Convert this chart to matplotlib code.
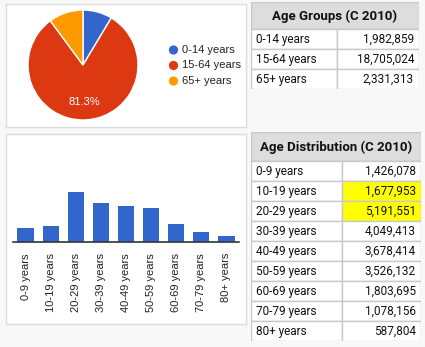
import matplotlib
matplotlib.use("Agg")
import matplotlib.pyplot as plt
from matplotlib.patches import Rectangle

# ---- data ----
group_labels = ["0-14 years", "15-64 years", "65+ years"]
group_values = [1982859, 18705024, 2331313]
group_colors = ["#3366cc", "#dc3912", "#ff9900"]

dist_labels = ["0-9 years", "10-19 years", "20-29 years", "30-39 years", "40-49 years",
               "50-59 years", "60-69 years", "70-79 years", "80+ years"]
dist_values = [1426078, 1677953, 5191551, 4049413, 3678414,
               3526132, 1803695, 1078156, 587804]
dist_highlight = [1, 2]

W, H = 425, 347
fig = plt.figure(figsize=(W / 100, H / 100), dpi=100, facecolor="#f8f8f8")

sans = ["Liberation Sans", "DejaVu Sans"]
narrow = ["Liberation Sans Narrow", "Roboto", "DejaVu Sans"]


def px_axes(x0, y0, x1, y1, **kw):
    return fig.add_axes([x0 / W, 1 - y1 / H, (x1 - x0) / W, (y1 - y0) / H], **kw)


def panel(x0, y0, x1, y1):
    ax = px_axes(x0, y0, x1, y1)
    ax.set_facecolor("white")
    ax.set_xticks([]); ax.set_yticks([])
    for s in ax.spines.values():
        s.set_color("#dddddd")
        s.set_linewidth(1)
    ax.set_xlim(x0, x1); ax.set_ylim(y1, y0)
    return ax


# ---- pie panel ----
pie_panel = panel(6, 4, 245.5, 127)
for i, (lab, col) in enumerate(zip(group_labels, group_colors)):
    y = 50 + i * 15.5
    pie_panel.scatter([173.5], [y], s=44, color=col, edgecolors="none")
    pie_panel.text(182, y, lab, fontsize=8, family=sans, color="#222222", va="center")

ax_pie = px_axes(28, 10, 138, 120)
ax_pie.pie(group_values, colors=group_colors, startangle=90, counterclock=False,
           wedgeprops=dict(edgecolor="white", linewidth=1),
           autopct=lambda p: f"{p:.1f}%" if p > 50 else "", pctdistance=0.67,
           textprops=dict(color="white", fontsize=8, family=sans))
ax_pie.set_xlim(-1, 1); ax_pie.set_ylim(-1, 1)

# ---- bar panel ----
panel(6, 134, 246, 324)
ax_bar = px_axes(13, 142, 239, 242)
ax_bar.bar(range(len(dist_values)), dist_values, width=0.65, color="#3366cc")
ax_bar.set_xlim(-0.5, len(dist_values) - 0.5)
ax_bar.set_ylim(0, 10.3e6)
ax_bar.set_facecolor("none")
for s in ["top", "left", "right"]:
    ax_bar.spines[s].set_visible(False)
ax_bar.spines["bottom"].set_color("#333333")
ax_bar.spines["bottom"].set_linewidth(1.2)
ax_bar.set_yticks([])
ax_bar.set_xticks(range(len(dist_labels)))
ax_bar.set_xticklabels(dist_labels, rotation=90, fontsize=8, family=sans, color="#222222")
ax_bar.tick_params(axis="x", length=0, pad=8)


# ---- tables ----
def draw_table(x0, y0, x1, head_h, title, labels, values, split, highlight=()):
    row_h = 20
    y1 = y0 + head_h + row_h * len(labels)
    ax = px_axes(x0, y0, x1, y1)
    w = x1 - x0
    ax.set_xlim(0, w); ax.set_ylim(y1 - y0, 0)
    ax.axis("off")
    sx = w * split
    ax.add_patch(Rectangle((0, 0), w, head_h, facecolor="#dddddd", edgecolor="#c8c8c8", lw=1))
    ax.text(w / 2, head_h / 2 + 1, title, ha="center", va="center", fontsize=9.5,
            fontweight="bold", family=narrow, color="#111111")
    for i, (lab, val) in enumerate(zip(labels, values)):
        top = head_h + i * row_h
        ax.add_patch(Rectangle((0, top), sx, row_h, facecolor="white", edgecolor="#c8c8c8", lw=1))
        fc = "#ffff00" if i in highlight else "white"
        ax.add_patch(Rectangle((sx, top), w - sx, row_h, facecolor=fc, edgecolor="#c8c8c8", lw=1))
        ax.text(5, top + row_h / 2 + 0.5, lab, ha="left", va="center", fontsize=8.5,
                family=narrow, color="#111111")
        ax.text(w - 5, top + row_h / 2 + 0.5, f"{val:,}", ha="right", va="center",
                fontsize=8.5, family=narrow, color="#111111")


draw_table(251, 2, 419, 27, "Age Groups (C 2010)", group_labels, group_values, 0.512)
draw_table(251, 132, 421, 29, "Age Distribution (C 2010)", dist_labels, dist_values, 0.535,
           dist_highlight)

fig.savefig("out.png", dpi=100, facecolor=fig.get_facecolor())
